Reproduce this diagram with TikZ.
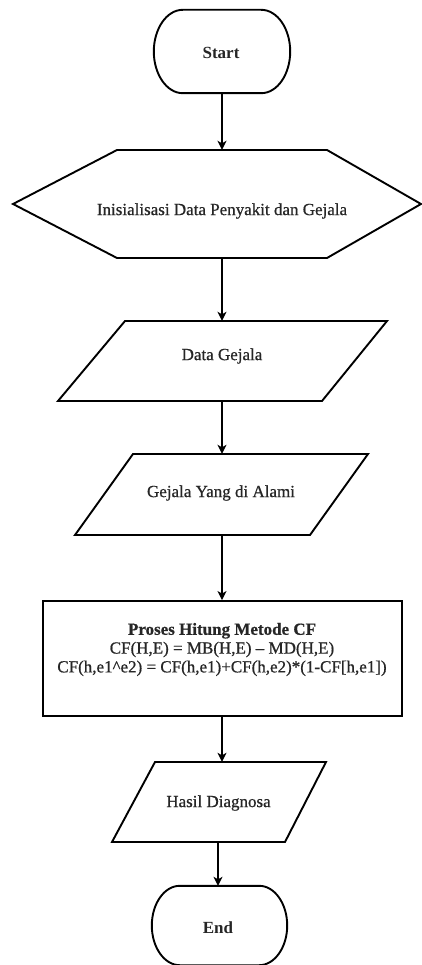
\documentclass[tikz,border=0pt]{standalone}
\usepackage{fontspec}
\setmainfont{Liberation Serif}
\newfontfamily\semib{Liberation Serif}[FakeBold=0.7]
\usetikzlibrary{calc,arrows.meta}
\newcommand\termshape[3]{%
\draw[shapeline] ($(#1.north west)+(#2,0)$) -- ($(#1.north east)+(-#2,0)$)
  .. controls +(0.552*#2,0) and +(0,-0.552*#3) .. (#1.east)
  .. controls +(0,0.552*#3) and +(0.552*#2,0) .. ($(#1.south east)+(-#2,0)$)
  -- ($(#1.south west)+(#2,0)$)
  .. controls +(-0.552*#2,0) and +(0,0.552*#3) .. (#1.west)
  .. controls +(0,-0.552*#3) and +(-0.552*#2,0) .. cycle;}
\begin{document}
\begin{tikzpicture}[x=1pt,y=-1pt,
  shapeline/.style={line width=1.9pt, line join=miter},
  frame/.style={draw=none, inner sep=0pt},
  txt/.style={font=\fontsize{17}{18.8}\selectfont\semib, text=black!85, inner sep=0pt, align=center},
  arr/.style={-{Stealth[length=9pt,width=9pt,inset=2.5pt]}, line width=1.3pt}]
\useasboundingbox (0,0) rectangle (422,965);
\fill[white] (0,0) rectangle (422,965);

% shape frames
\node[frame, minimum width=136pt, minimum height=83pt] (start) at (222,51.5) {};
\node[frame, minimum width=210pt, minimum height=108pt] (init) at (222,204) {};
\node[frame, minimum width=196pt, minimum height=80pt] (p1) at (222,361) {};
\node[frame, minimum width=177pt, minimum height=81pt] (p2) at (222,494.5) {};
\node[draw, shapeline, inner sep=0pt, minimum width=359pt, minimum height=115pt] (proc) at (222.5,658.5) {};
\node[frame, minimum width=130pt, minimum height=80pt] (p3) at (219,802) {};
\node[frame, minimum width=135pt, minimum height=79pt] (end) at (219.5,925.5) {};

% outlines
\termshape{start}{29}{41.5}
\draw[shapeline] (117,150) -- (327,150) -- (421,204) -- (327,258) -- (117,258) -- (13,204) -- cycle;
\draw[shapeline] (125,321) -- (387,321) -- (322,401) -- (58,401) -- cycle;
\draw[shapeline] (133,454) -- (368,454) -- (310,535) -- (75,535) -- cycle;
\draw[shapeline] (155,762) -- (326,762) -- (285,842) -- (112,842) -- cycle;
\termshape{end}{28}{39.5}

% texts
\node[txt, font=\fontsize{17}{18.8}\selectfont\bfseries] (tstart) at (221,53) {Start};
\node[txt] (tinit) at (222,211) {Inisialisasi Data Penyakit dan Gejala};
\node[txt] (tp1) at (222,356) {Data Gejala};
\node[txt] (tp2) at (221,493) {Gejala Yang di Alami};
\node[txt] (tproc) at (222,649.5) {{\bfseries Proses Hitung Metode CF}\\CF(H,E) = MB(H,E) \textendash{} MD(H,E)\\CF(h,e1\textasciicircum e2) = CF(h,e1)+CF(h,e2)*(1-CF[h,e1])};
\node[txt] (tp3) at (218.5,803) {Hasil Diagnosa};
\node[txt, font=\fontsize{17}{18.8}\selectfont\bfseries] (tend) at (218,928) {End};

% connectors
\draw[arr] (start.south) -- (init.north);
\draw[arr] (init.south) -- (p1.north);
\draw[arr] (p1.south) -- (p2.north);
\draw[arr] (p2.south) -- (proc.north -| p2.south);
\draw[arr] (proc.south -| p2.south) -- (p3.north -| p2.south);
\draw[arr] (p3.south -| end.north) ++(-1.5,0) -- ($(end.north)+(-1.5,0)$);
\end{tikzpicture}
\end{document}
